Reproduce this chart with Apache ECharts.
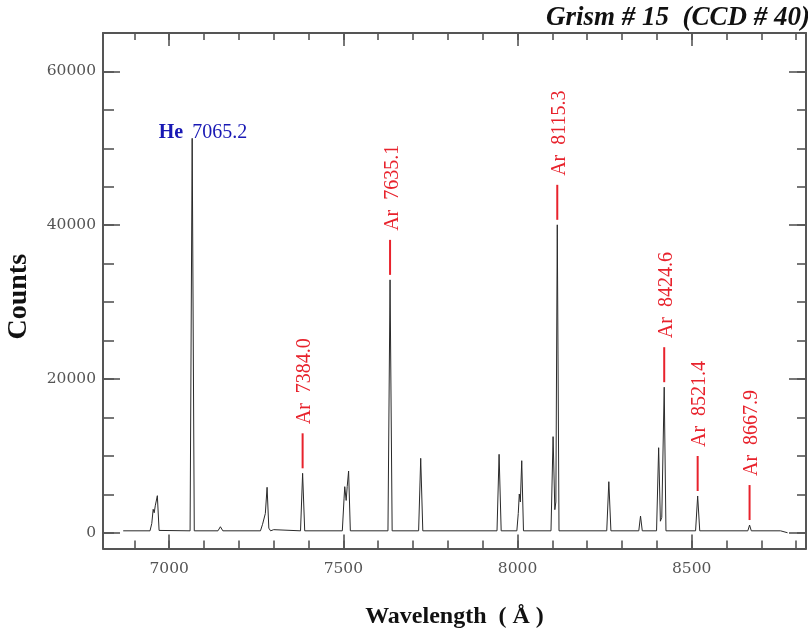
<!DOCTYPE html>
<html>
<head>
<meta charset="utf-8">
<script src="https://cdn.jsdelivr.net/npm/echarts@6/dist/echarts.min.js"></script>
<style>
html,body{margin:0;padding:0;background:#fff;}
#c{width:808px;height:634px;}
</style>
</head>
<body>
<div id="c"></div>
<script>
// ---- data ----
const wavelength = [6868, 6945, 6950, 6954, 6957, 6960, 6966, 6971, 6976,
  7060, 7066, 7072, 7140, 7147, 7154,
  7262, 7268, 7272, 7276, 7281, 7286, 7291, 7296, 7300, 7304,
  7377, 7383, 7389, 7497, 7502, 7504, 7508, 7511, 7515, 7520,
  7628, 7634, 7640, 7716, 7722, 7728, 7941, 7947, 7953,
  7998, 8002, 8005, 8008, 8012, 8017, 8096, 8102, 8107, 8110, 8114, 8119,
  8256, 8262, 8268, 8348, 8353, 8358, 8399, 8405, 8410, 8414, 8421, 8426,
  8511, 8517, 8523, 8661, 8666, 8671, 8755, 8775];
const counts = [250, 250, 1200, 3050, 2600, 3500, 4820, 300, 250,
  250, 51300, 250, 250, 780, 250,
  250, 1100, 1300, 2500, 5910, 600, 250, 250, 400, 250,
  250, 7730, 250, 250, 4500, 5990, 4200, 6000, 8030, 250,
  250, 32890, 250, 250, 9680, 250, 250, 10200, 250,
  250, 2500, 5040, 4000, 9370, 250, 250, 12500, 3000, 4000, 40050, 250,
  250, 6640, 250, 250, 2170, 250, 250, 11060, 1500, 2000, 18930, 250,
  250, 4780, 250, 250, 1000, 250, 250, 0];

const arLabels = ['7384.0', '7635.1', '8115.3', '8424.6', '8521.4', '8667.9'];
const arPos = [7383, 7634, 8114, 8421, 8517, 8666];
const arPeak = [7730, 32890, 40050, 18930, 4780, 1000];
const heLabel = '7065.2';
const hePos = 7066;
const hePeak = 51300;

const xMajorTicks = [7000, 7500, 8000, 8500];
const xMinorTicks = [6900, 7000, 7100, 7200, 7300, 7400, 7500, 7600, 7700, 7800, 7900, 8000, 8100, 8200, 8300, 8400, 8500, 8600, 8700, 8800];
const yMajorTicks = [0, 20000, 40000, 60000];
const yMinorTicks = [0, 5000, 10000, 15000, 20000, 25000, 30000, 35000, 40000, 45000, 50000, 55000, 60000];

const X_MIN = 6810, X_MAX = 8828, Y_MIN = -2050, Y_MAX = 65000;

// ---- chart ----
const RED = '#e8222c', BLUE = '#1818b4', FRAME = '#555';
const chart = echarts.init(document.getElementById('c'), null, {renderer: 'canvas'});
const plain = v => String(v);

function xAxisDef(pos, ticks, len, withLabel, withLine, name) {
  return {
    type: 'value', position: pos, min: X_MIN, max: X_MAX,
    splitLine: {show: false},
    axisLine: {show: withLine, onZero: false, lineStyle: {color: FRAME, width: 2}},
    axisTick: {show: true, inside: true, length: len, customValues: ticks, lineStyle: {color: FRAME, width: 1.6}},
    axisLabel: withLabel ? {show: true, customValues: xMajorTicks, margin: 12, formatter: plain,
      fontFamily: 'DejaVu Serif', fontSize: 15.5, color: '#555'} : {show: false},
    name: name || '', nameLocation: 'middle', nameGap: 56,
    nameTextStyle: {fontFamily: 'Liberation Serif', fontWeight: 'bold', fontSize: 24, color: '#111'}
  };
}
function yAxisDef(pos, ticks, len, withLabel, withLine, name) {
  return {
    type: 'value', position: pos, min: Y_MIN, max: Y_MAX,
    splitLine: {show: false},
    axisLine: {show: withLine, onZero: false, lineStyle: {color: FRAME, width: 2}},
    axisTick: {show: true, inside: true, length: len, customValues: ticks, lineStyle: {color: FRAME, width: 1.6}},
    axisLabel: withLabel ? {show: true, customValues: yMajorTicks, margin: 7, formatter: plain,
      fontFamily: 'DejaVu Serif', fontSize: 15.5, color: '#555'} : {show: false},
    name: name || '', nameLocation: 'middle', nameGap: 70, nameRotate: 90,
    nameTextStyle: {fontFamily: 'Liberation Serif', fontWeight: 'bold', fontSize: 28, color: '#111', padding: [0, 0, 0, -12]}
  };
}

const option = {
  animation: false,
  backgroundColor: '#fff',
  title: {
    text: 'Grism # 15  (CCD # 40)', right: -7, top: 0,
    textStyle: {fontFamily: 'Liberation Serif', fontStyle: 'italic', fontWeight: 'bold', fontSize: 27, color: '#111'}
  },
  grid: {left: 103, right: 2, top: 33, bottom: 85.5, containLabel: false, outerBoundsMode: 'none'},
  xAxis: [
    xAxisDef('bottom', xMajorTicks, 14, true, true, 'Wavelength  ( Å )'),
    xAxisDef('bottom', xMinorTicks, 8, false, false),
    xAxisDef('top', xMajorTicks, 13, false, true),
    xAxisDef('top', xMinorTicks, 7, false, false)
  ],
  yAxis: [
    yAxisDef('left', yMajorTicks, 17, true, true, 'Counts'),
    yAxisDef('left', yMinorTicks, 11, false, false),
    yAxisDef('right', yMajorTicks, 17, false, true),
    yAxisDef('right', yMinorTicks, 9, false, false)
  ],
  series: [
    {
      type: 'line', xAxisIndex: 0, yAxisIndex: 0,
      data: wavelength.map((w, i) => [w, counts[i]]),
      showSymbol: false, symbol: 'none',
      lineStyle: {color: '#2a2a2a', width: 1},
      silent: true
    },
    {
      type: 'custom', xAxisIndex: 0, yAxisIndex: 0, clip: false, silent: true,
      data: arPos.map((w, i) => [w, arPeak[i]]),
      renderItem: function (params, api) {
        const i = params.dataIndex;
        const p = api.coord([api.value(0), api.value(1)]);
        const x = p[0], y = p[1];
        const y1 = y - 5, y2 = y - 40;
        return {type: 'group', children: [
          {type: 'line', shape: {x1: x, y1: y1, x2: x, y2: y2}, style: {stroke: RED, lineWidth: 2}},
          {type: 'text', x: x + 2.5, y: y2 - 9, rotation: Math.PI / 2,
            style: {text: 'Ar  ' + arLabels[i], fill: RED, font: '20px "Liberation Serif"', align: 'left', verticalAlign: 'middle'}}
        ]};
      }
    },
    {
      type: 'custom', xAxisIndex: 0, yAxisIndex: 0, clip: false, silent: true,
      data: [[hePos, hePeak]],
      renderItem: function (params, api) {
        const p = api.coord([api.value(0), api.value(1)]);
        const x = p[0], y = p[1];
        return {type: 'group', children: [
          {type: 'text', x: x - 9, y: y + 4, style: {text: 'He', fill: BLUE, font: 'bold 20px "Liberation Serif"', align: 'right', verticalAlign: 'bottom'}},
          {type: 'text', x: x, y: y + 4, style: {text: heLabel, fill: BLUE, font: '20px "Liberation Serif"', align: 'left', verticalAlign: 'bottom'}}
        ]};
      }
    }
  ]
};
chart.setOption(option);
</script>
</body>
</html>
